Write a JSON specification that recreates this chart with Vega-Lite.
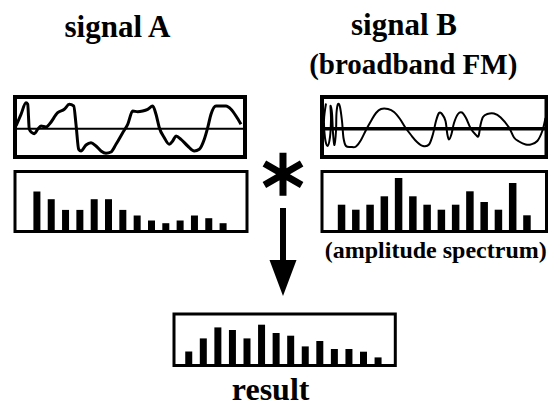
{
  "$schema": "https://vega.github.io/schema/vega-lite/v6.json",
  "background": "white",
  "padding": {"left": 12, "top": 10, "right": 0, "bottom": 0},
  "config": {
    "view": {"stroke": null},
    "title": {"font": "Liberation Serif", "fontWeight": "bold", "color": "black", "anchor": "middle", "baseline": "alphabetic"}
  },
  "spacing": 10,
  "bounds": "full",
  "vconcat": [
    {
      "columns": 3,
      "spacing": {"row": 14.5, "column": 20},
      "bounds": "flush",
      "align": "each",
      "concat": [
        {
          "width": 230, "height": 60,
          "view": {"stroke": "black", "strokeWidth": 4},
          "title": {"text": "signal A", "fontSize": 31, "dx": -12.5, "offset": 53},
          "layer": [
            {
              "data": {"values": [{}]},
              "mark": {"type": "rule", "color": "black", "strokeWidth": 2},
              "encoding": {"y": {"datum": 0, "type": "quantitative", "scale": {"domain": [-28.3, 31.7], "nice": false, "zero": false}, "axis": null}}
            },
            {
              "data": {"values": [
                {"t": 1, "a": 2.7}, {"t": 6, "a": 14.4}, {"t": 11, "a": 26}, {"t": 12.7, "a": 24.4}, {"t": 14.3, "a": -0.6},
                {"t": 17, "a": -4}, {"t": 19.3, "a": -5}, {"t": 22.7, "a": -0.6}, {"t": 26, "a": 2.7}, {"t": 31, "a": 1.7},
                {"t": 34.3, "a": 4.4}, {"t": 42.7, "a": 16}, {"t": 49.3, "a": 19.4}, {"t": 54.3, "a": 24.4}, {"t": 58.7, "a": 22.7},
                {"t": 61, "a": 4.4}, {"t": 63.7, "a": -20.6}, {"t": 66, "a": -22.3}, {"t": 71, "a": -16.3}, {"t": 76, "a": -14},
                {"t": 81, "a": -17.3}, {"t": 86, "a": -22.3}, {"t": 91, "a": -24.6}, {"t": 96, "a": -23.3}, {"t": 101, "a": -15.6},
                {"t": 107.7, "a": -4}, {"t": 112.7, "a": 4.4}, {"t": 117.7, "a": 17.7}, {"t": 122.7, "a": 17}, {"t": 127.7, "a": 17.7},
                {"t": 132.7, "a": 19.4}, {"t": 137.7, "a": 22.7}, {"t": 141, "a": 14.4}, {"t": 144.3, "a": 1}, {"t": 149.3, "a": -9},
                {"t": 154.3, "a": -15.6}, {"t": 157.7, "a": -12.3}, {"t": 161, "a": -7.3}, {"t": 166, "a": -10.6}, {"t": 172.7, "a": -17.3},
                {"t": 179.3, "a": -22.3}, {"t": 184.3, "a": -20.6}, {"t": 189.3, "a": -10.6}, {"t": 192.7, "a": 1}, {"t": 196, "a": 14.4},
                {"t": 201, "a": 22.7}, {"t": 211, "a": 22.7}, {"t": 216, "a": 19.4}, {"t": 221, "a": 12.7}, {"t": 226, "a": 4.4}
              ]},
              "mark": {"type": "line", "color": "black", "strokeWidth": 3, "interpolate": "monotone", "strokeJoin": "round"},
              "encoding": {
                "x": {"field": "t", "type": "quantitative", "scale": {"domain": [0, 230], "nice": false, "zero": false}, "axis": null},
                "y": {"field": "a", "type": "quantitative", "axis": null}
              }
            }
          ]
        },
        {
          "width": 35, "height": 60,
          "title": {"text": "signal B", "fontSize": 31, "anchor": "start", "dx": 84, "offset": 55},
          "data": {"values": [{}]},
          "mark": {"type": "point", "opacity": 0}
        },
        {
          "width": 224.5, "height": 60,
          "view": {"stroke": "black", "strokeWidth": 4},
          "title": {"text": "(broadband FM)", "fontSize": 29, "dx": -21, "offset": 17},
          "layer": [
            {
              "data": {"values": [{}]},
              "mark": {"type": "rule", "color": "black", "strokeWidth": 3.5},
              "encoding": {"y": {"datum": 0, "type": "quantitative", "scale": {"domain": [-28.2, 31.8], "nice": false, "zero": false}, "axis": null}}
            },
            {
              "data": {"values": [
                {"s": 1, "t": 4, "a": 25.3}, {"s": 2, "t": 2, "a": 8.8}, {"s": 3, "t": 3, "a": -9.2}, {"s": 4, "t": 5.5, "a": -17.2},
                {"s": 5, "t": 8, "a": -8.2}, {"s": 6, "t": 9, "a": 9.8}, {"s": 7, "t": 8.5, "a": 22.8}, {"s": 8, "t": 10, "a": 15.8},
                {"s": 9, "t": 11, "a": -4.2}, {"s": 10, "t": 12.5, "a": -16.2}, {"s": 11, "t": 14, "a": -2.2}, {"s": 12, "t": 14.5, "a": 15.8},
                {"s": 13, "t": 16, "a": 24.8}, {"s": 14, "t": 18, "a": 21.8}, {"s": 15, "t": 20, "a": 7.8}, {"s": 16, "t": 21.5, "a": -9.2},
                {"s": 17, "t": 24, "a": -17.2}, {"s": 18, "t": 29, "a": -18.2}, {"s": 19, "t": 34, "a": -17.7}, {"s": 20, "t": 39, "a": -11.2},
                {"s": 21, "t": 44, "a": -1.2}, {"s": 22, "t": 49, "a": 7.8}, {"s": 23, "t": 54, "a": 15.8}, {"s": 24, "t": 59, "a": 19.8},
                {"s": 25, "t": 66, "a": 19.8}, {"s": 26, "t": 72, "a": 16.8}, {"s": 27, "t": 78, "a": 9.8}, {"s": 28, "t": 83, "a": 1.8},
                {"s": 29, "t": 89, "a": -6.2}, {"s": 30, "t": 95, "a": -13.2}, {"s": 31, "t": 101, "a": -17.2}, {"s": 32, "t": 107, "a": -15.7},
                {"s": 33, "t": 111, "a": -5.2}, {"s": 34, "t": 114, "a": 7.8}, {"s": 35, "t": 117, "a": 15.8}, {"s": 36, "t": 120, "a": 14.8},
                {"s": 37, "t": 123.5, "a": 7.8}, {"s": 38, "t": 125.3, "a": -5.2}, {"s": 39, "t": 127, "a": -10.7}, {"s": 40, "t": 129.5, "a": -5.2},
                {"s": 41, "t": 132, "a": 5.8}, {"s": 42, "t": 136, "a": 14.8}, {"s": 43, "t": 140, "a": 16.3}, {"s": 44, "t": 144, "a": 10.8},
                {"s": 45, "t": 148.5, "a": 0.8}, {"s": 46, "t": 153.5, "a": -5.7}, {"s": 47, "t": 156.5, "a": -7.2}, {"s": 48, "t": 158.5, "a": 3.8},
                {"s": 49, "t": 161, "a": 11.8}, {"s": 50, "t": 165.3, "a": 14.8}, {"s": 51, "t": 172, "a": 15.3}, {"s": 52, "t": 178.7, "a": 11.3},
                {"s": 53, "t": 187, "a": 1.3}, {"s": 54, "t": 192, "a": -8.7}, {"s": 55, "t": 197, "a": -12.7}, {"s": 56, "t": 203.7, "a": -15.7},
                {"s": 57, "t": 208.7, "a": -15.7}, {"s": 58, "t": 215.3, "a": -12.2}, {"s": 59, "t": 220.3, "a": -2.2}, {"s": 60, "t": 223.5, "a": 10.8}
              ]},
              "mark": {"type": "line", "color": "black", "strokeWidth": 2, "interpolate": "cardinal", "strokeJoin": "round"},
              "encoding": {
                "x": {"field": "t", "type": "quantitative", "scale": {"domain": [0, 224.5], "nice": false, "zero": false}, "axis": null},
                "y": {"field": "a", "type": "quantitative", "axis": null},
                "order": {"field": "s", "type": "quantitative"}
              }
            }
          ]
        },
        {
          "width": 232, "height": 60,
          "view": {"stroke": "black", "strokeWidth": 3},
          "data": {"values": [
            {"i": 1, "v": 40}, {"i": 2, "v": 32.3}, {"i": 3, "v": 21.6}, {"i": 4, "v": 21.6}, {"i": 5, "v": 32.3},
            {"i": 6, "v": 32.3}, {"i": 7, "v": 21.6}, {"i": 8, "v": 16}, {"i": 9, "v": 11}, {"i": 10, "v": 8.3},
            {"i": 11, "v": 11}, {"i": 12, "v": 16}, {"i": 13, "v": 13.3}, {"i": 14, "v": 8.3}
          ]},
          "mark": {"type": "bar", "color": "black", "size": 7},
          "encoding": {
            "x": {"field": "i", "type": "quantitative", "scale": {"domain": [-0.18, 15.32], "nice": false, "zero": false}, "axis": null},
            "y": {"field": "v", "type": "quantitative", "scale": {"domain": [0, 60], "nice": false}, "axis": null}
          }
        },
        {
          "width": 35, "height": 130.3,
          "layer": [
            {
              "data": {"values": [{"px": 0.457, "py": 127.5}]},
              "mark": {"type": "point", "shape": "M0,-1L0,1M-0.866,-0.5L0.866,0.5M-0.866,0.5L0.866,-0.5", "filled": false, "color": "black", "strokeWidth": 7, "size": 1849, "opacity": 1},
              "encoding": {
                "x": {"field": "px", "type": "quantitative", "scale": {"domain": [0, 1], "nice": false, "zero": false}, "axis": null},
                "y": {"field": "py", "type": "quantitative", "scale": {"domain": [0, 130.3], "nice": false, "zero": false}, "axis": null}
              }
            },
            {
              "data": {"values": [{"px": 0.457, "top": 93.8, "bottom": 36}]},
              "mark": {"type": "rule", "color": "black", "strokeWidth": 6},
              "encoding": {
                "x": {"field": "px", "type": "quantitative"},
                "y": {"field": "top", "type": "quantitative"},
                "y2": {"field": "bottom"}
              }
            },
            {
              "data": {"values": [{"px": 0.457, "py": 23.8}]},
              "mark": {"type": "point", "shape": "M-0.75,-1L0.75,-1L0,1Z", "filled": true, "color": "black", "size": 1296, "opacity": 1},
              "encoding": {
                "x": {"field": "px", "type": "quantitative"},
                "y": {"field": "py", "type": "quantitative"}
              }
            }
          ]
        },
        {
          "width": 224.5, "height": 60,
          "view": {"stroke": "black", "strokeWidth": 3},
          "title": {"text": "(amplitude spectrum)", "orient": "bottom", "fontSize": 24, "dx": 1.5, "offset": 7},
          "data": {"values": [
            {"i": 1, "v": 26.8}, {"i": 2, "v": 21.8}, {"i": 3, "v": 26.8}, {"i": 4, "v": 35.2}, {"i": 5, "v": 53.5},
            {"i": 6, "v": 35.2}, {"i": 7, "v": 26.8}, {"i": 8, "v": 21.8}, {"i": 9, "v": 26.8}, {"i": 10, "v": 40.2},
            {"i": 11, "v": 29.5}, {"i": 12, "v": 21.8}, {"i": 13, "v": 48.5}, {"i": 14, "v": 16.2}
          ]},
          "mark": {"type": "bar", "color": "black", "size": 7.5},
          "encoding": {
            "x": {"field": "i", "type": "quantitative", "scale": {"domain": [-0.02, 15.02], "nice": false, "zero": false}, "axis": null},
            "y": {"field": "v", "type": "quantitative", "scale": {"domain": [0, 60], "nice": false}, "axis": null}
          }
        }
      ]
    },
    {
      "spacing": 20,
      "bounds": "flush",
      "hconcat": [
        {
          "width": 139, "height": 51.4,
          "data": {"values": [{}]},
          "mark": {"type": "point", "opacity": 0}
        },
        {
          "width": 221.3, "height": 51.4,
          "view": {"stroke": "black", "strokeWidth": 3},
          "title": {"text": "result", "orient": "bottom", "fontSize": 32, "dx": -14, "offset": 10},
          "data": {"values": [
            {"i": 1, "v": 14}, {"i": 2, "v": 27}, {"i": 3, "v": 38}, {"i": 4, "v": 35.4}, {"i": 5, "v": 27},
            {"i": 6, "v": 40.7}, {"i": 7, "v": 32.4}, {"i": 8, "v": 29.7}, {"i": 9, "v": 19}, {"i": 10, "v": 24.4},
            {"i": 11, "v": 16.4}, {"i": 12, "v": 16.4}, {"i": 13, "v": 13.7}, {"i": 14, "v": 8}
          ]},
          "mark": {"type": "bar", "color": "black", "size": 7},
          "encoding": {
            "x": {"field": "i", "type": "quantitative", "scale": {"domain": [0.331, 14.84], "nice": false, "zero": false}, "axis": null},
            "y": {"field": "v", "type": "quantitative", "scale": {"domain": [0, 51.4], "nice": false}, "axis": null}
          }
        }
      ]
    }
  ]
}
